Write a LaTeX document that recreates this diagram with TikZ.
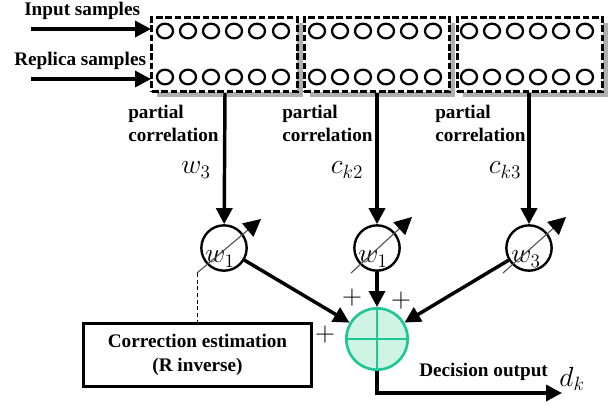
\documentclass[tikz,border=0pt]{standalone}
\usepackage{fontspec}
\setmainfont{Liberation Serif}
\usetikzlibrary{shapes.geometric, shadows, positioning, arrows.meta}
\definecolor{SumGreen}{RGB}{32, 199, 150}
\definecolor{SumFill}{RGB}{208, 244, 228}
\definecolor{ShadeGray}{RGB}{175, 175, 175}

\begin{document}
\begin{tikzpicture}[x=0.75pt, y=-0.75pt,
        samplebox/.style={draw, dash pattern=on 5pt off 2pt, line width=2.1pt, fill=white, minimum width=109pt, minimum height=56pt,
                          drop shadow={shadow xshift=4pt, shadow yshift=-4pt, fill=ShadeGray, opacity=1}},
        tap/.style={draw, ellipse, line width=1.7pt, minimum width=12pt, minimum height=11pt, inner sep=0pt},
        weight/.style={draw, circle, line width=1.8pt, minimum size=34pt, inner sep=0pt},
        label/.style={font=\fontsize{14.4}{17.5}\selectfont\bfseries, align=left, inner sep=0pt},
        sym/.style={font=\fontsize{20}{24}\selectfont, inner sep=0pt},
        arrow/.style={-{Triangle[length=12pt, width=12pt]}, line width=2.6pt},
        knob/.style={-{Triangle[length=13pt, width=13pt, color=black, fill=black]}, line width=0.8pt, draw=black!70}]

        \useasboundingbox (0,0) rectangle (616,405);

        % delay line blocks
        \node[samplebox] (blockA) at (224.5, 54.5) {};
        \node[samplebox] (blockB) at (377, 54.5) {};
        \node[samplebox] (blockC) at (530, 54.5) {};

        % taps in each block
        \foreach \bx/\name in {0/A, 152/B, 304/C} {
            \foreach \dx [count=\i] in {165, 188, 211, 234, 257, 281} {
                \node[tap] (top\name\i) at (\dx+\bx, 31) {};
                \node[tap] (bot\name\i) at (\dx+\bx, 77) {};
            }
        }

        % inputs
        \coordinate (inTop) at (31, 29);
        \coordinate (inBot) at (31, 79);
        \coordinate (inTopEnd) at (151, 29);
        \coordinate (inBotEnd) at (151, 79);
        \draw[arrow] (inTop) -- (inTopEnd);
        \draw[arrow] (inBot) -- (inBotEnd);
        \node[label, anchor=west] (inputLab) at (24, 11) {Input samples};
        \node[label, anchor=west] (replicaLab) at (14, 61) {Replica samples};

        % partial correlation labels
        \node[label, anchor=north west] (corrA) at (128, 105) {partial\\correlation};
        \node[label, anchor=north west] (corrB) at (282, 105) {partial\\correlation};
        \node[label, anchor=north west] (corrC) at (435, 105) {partial\\correlation};

        \node[sym] (symA) at (196, 170) {$w_3$};
        \node[sym] (symB) at (347, 170) {$c_{k2}$};
        \node[sym] (symC) at (505, 170) {$c_{k3}$};

        % weights
        \node[weight] (weightA) at (224, 248) {};
        \node[weight] (weightB) at (377, 248) {};
        \node[weight] (weightC) at (529, 248) {};
        \node[sym] (weightLabA) at (220, 259) {$w_1$};
        \node[sym] (weightLabB) at (373, 259) {$w_1$};
        \node[sym] (weightLabC) at (526, 259) {$w_3$};

        \draw[arrow] (225, 93) -- (weightA);
        \draw[arrow] (blockB) ++(0, 38.5) -- (weightB);
        \draw[arrow] (529, 93) -- (weightC);

        % adjustable weight marks
        \coordinate (knobA) at (197, 273);
        \coordinate (knobB) at (351, 273);
        \coordinate (knobC) at (503, 273);
        \draw[knob] (knobA) -- (261, 219);
        \draw[knob] (knobB) -- (412, 217);
        \draw[knob] (knobC) -- (566, 217);

        % combiner
        \node[draw=SumGreen, fill=SumFill, circle, line width=2pt, minimum size=46pt, inner sep=0pt] (sum) at (377, 339) {};
        \draw[SumGreen, line width=2pt] (sum.north) -- (sum.south);
        \draw[SumGreen, line width=2pt] (sum.west) -- (sum.east);

        \draw[arrow] (weightA) -- (sum);
        \draw[arrow] (weightB) -- (sum);
        \draw[arrow] (weightC) -- (sum);

        \node[sym] (plusA) at (352, 298) {$+$};
        \node[sym] (plusB) at (401, 301) {$+$};
        \node[sym] (plusC) at (325, 335) {$+$};

        % correction block
        \node[draw, line width=1.9pt, minimum width=171pt, minimum height=47pt, align=center,
              font=\fontsize{14.4}{18}\selectfont\bfseries] (corr) at (197.5, 355) {Correction estimation\\(R inverse)};
        \draw[densely dashed, line width=0.5pt] (knobA) -- (knobA |- corr.north);

        % output
        \coordinate (outEnd) at (562, 393);
        \draw[arrow] (sum.south) |- (outEnd);
        \node[label, anchor=west] (outLab) at (419, 372) {Decision output};
        \node[sym] (outSym) at (572, 379) {$d_k$};
    \end{tikzpicture}
\end{document}
